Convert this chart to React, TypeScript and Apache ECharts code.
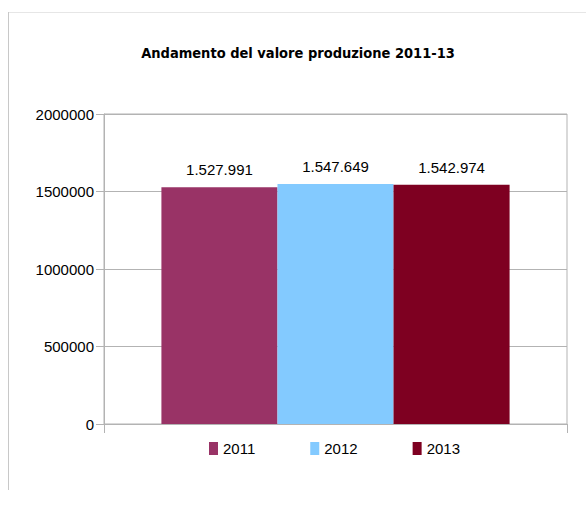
import React, { useEffect, useRef } from "react";
import * as echarts from "echarts";

const categories = ["Valore produzione"];
const years = ["2011", "2012", "2013"];
const values = [1527991, 1547649, 1542974];
const colors = ["#993366", "#83CAFF", "#7E0021"];
const yTicks = { min: 0, max: 2000000, interval: 500000 };

const FONT = "'Liberation Sans', Arial, sans-serif";

function fmt(v: number): string {
  return String(Math.round(v)).replace(/\B(?=(\d{3})+(?!\d))/g, ".");
}

export default function App() {
  const ref = useRef<HTMLDivElement>(null);
  useEffect(() => {
    if (!ref.current) return;
    const chart = echarts.init(ref.current, undefined, { renderer: "svg" });
    chart.setOption({
      animation: false,
      backgroundColor: "#ffffff",
      title: {
        text: "Andamento del valore produzione 2011-13",
        left: 298,
        textAlign: "center",
        top: 45,
        padding: 0,
        textStyle: {
          fontFamily: "'DejaVu Sans Condensed', 'DejaVu Sans', sans-serif",
          fontWeight: "bold",
          fontSize: 14.5,
          color: "#000000",
        },
      },
      graphic: [
        {
          type: "line",
          shape: { x1: 8, y1: 12.5, x2: 586, y2: 12.5 },
          style: { stroke: "#e6e6e6", lineWidth: 1 },
        },
        {
          type: "line",
          shape: { x1: 8.5, y1: 12, x2: 8.5, y2: 490 },
          style: { stroke: "#c8c8c8", lineWidth: 1 },
        },
      ],
      grid: {
        left: 104,
        right: 19,
        top: 114,
        bottom: 82,
        show: true,
        borderColor: "#b3b3b3",
        borderWidth: 1,
      },
      legend: {
        data: years,
        left: 209,
        top: 441,
        padding: 0,
        itemWidth: 9,
        itemHeight: 13,
        itemGap: 55,
        icon: "rect",
        textStyle: { fontFamily: FONT, fontSize: 15, color: "#000000" },
      },
      xAxis: {
        type: "category",
        data: categories,
        axisLine: { show: true, lineStyle: { color: "#b3b3b3" } },
        axisTick: { show: true, length: 9, lineStyle: { color: "#b3b3b3" } },
        axisLabel: { show: false },
        splitLine: { show: false },
      },
      yAxis: {
        type: "value",
        min: yTicks.min,
        max: yTicks.max,
        interval: yTicks.interval,
        axisLine: { show: true, lineStyle: { color: "#b3b3b3" } },
        axisTick: { show: true, length: 8, lineStyle: { color: "#b3b3b3" } },
        axisLabel: {
          fontFamily: FONT,
          fontSize: 15,
          color: "#000000",
          margin: 10,
          formatter: (v: number) => String(v),
        },
        splitLine: { show: true, lineStyle: { color: "#b3b3b3" } },
      },
      series: years.map((y, i) => ({
        name: y,
        type: "bar",
        data: [values[i]],
        itemStyle: { color: colors[i] },
        barGap: "0%",
        barCategoryGap: "24.8%",
        label: {
          show: true,
          position: "top",
          distance: 10,
          fontFamily: FONT,
          fontSize: 15,
          color: "#000000",
          formatter: (p: any) => fmt(p.value),
        },
      })),
    });
    return () => chart.dispose();
  }, []);
  return (
    <div
      ref={ref}
      style={{ position: "fixed", left: 0, top: 0, width: 586, height: 506 }}
    />
  );
}
